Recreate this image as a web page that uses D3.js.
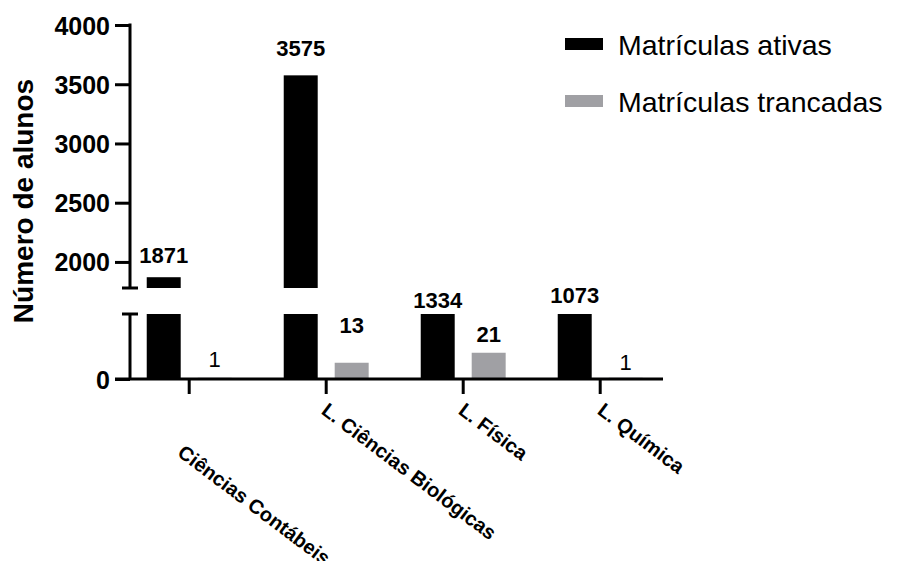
<!DOCTYPE html>
<html>
<head>
	<title>matriculas</title>
	<script src="https://cdn.jsdelivr.net/npm/d3@7"></script>
</head>
<style type="text/css">
	body { margin: 0; background-color: #fff; }
	text { font-family: Arial, "Liberation Sans", sans-serif; }
</style>
<body>
</body>
</html>
<script type="text/javascript">
	var width = 903;
	var height = 561;

	var categories = ["Ciências Contábeis", "L. Ciências Biológicas", "L. Física", "L. Química"];
	var series = ["Matrículas ativas", "Matrículas trancadas"];
	var ativas = [1871, 3575, 1334, 1073];
	var trancadas = [1, 13, 21, 1];
	var upperTicks = [2000, 2500, 3000, 3500, 4000];
	var lowerTicks = [0];

	// broken axis: lower piece 0-52, upper piece 1780-4000
	var lowDomain = [0, 52];
	var highDomain = [1780, 4000];

	var colors = d3.scaleOrdinal().domain(series).range(["#000000", "#a0a0a4"]);
	// label nudges (px above bar top), as placed in the original
	var labelGap = [[14, 19, 6, 11], [11, 30, 11, 8]];

	var svg = d3.select("body").append("svg").attr("width", width).attr("height", height);

	var yLow = d3.scaleLinear().domain(lowDomain).range([379, 314]);
	var yHigh = d3.scaleLinear().domain(highDomain).range([288, 25]);

	var x = d3.scaleBand().domain(categories).range([120.7, 668.7]).paddingInner(0.38).paddingOuter(0.19);
	var xSub = d3.scaleBand().domain(series).range([0, x.bandwidth()]).paddingInner(1 / 3);

	var rows = [];
	categories.forEach(function (c, i) {
		rows.push({cat: c, s: series[0], v: ativas[i], k: 0, i: i});
		rows.push({cat: c, s: series[1], v: trancadas[i], k: 1, i: i});
	});

	var bars = svg.append("g");
	// lower piece
	bars.selectAll("rect.low").data(rows).enter().append("rect")
		.attr("class", "low")
		.attr("x", function (d) { return x(d.cat) + xSub(d.s); })
		.attr("width", xSub.bandwidth())
		.attr("y", function (d) { return yLow(Math.min(d.v, lowDomain[1])); })
		.attr("height", function (d) { return yLow(0) - yLow(Math.min(d.v, lowDomain[1])); })
		.attr("fill", function (d) { return colors(d.s); });
	// upper piece
	bars.selectAll("rect.high").data(rows.filter(function (d) { return d.v > highDomain[0]; })).enter().append("rect")
		.attr("class", "high")
		.attr("x", function (d) { return x(d.cat) + xSub(d.s); })
		.attr("width", xSub.bandwidth())
		.attr("y", function (d) { return yHigh(d.v); })
		.attr("height", function (d) { return yHigh(highDomain[0]) - yHigh(d.v); })
		.attr("fill", function (d) { return colors(d.s); });

	// value labels
	svg.append("g").selectAll("text").data(rows).enter().append("text")
		.attr("x", function (d) { return x(d.cat) + xSub(d.s) + xSub.bandwidth() / 2; })
		.attr("y", function (d) {
			var top = d.v > highDomain[0] ? yHigh(d.v) : yLow(Math.min(d.v, lowDomain[1]));
			return top - labelGap[d.k][d.i];
		})
		.attr("text-anchor", "middle")
		.style("font-size", "22px")
		.style("font-weight", function (d) { return d.v > 1 ? "bold" : "normal"; })
		.text(function (d) { return d.v; });

	// y axes
	var axisHigh = svg.append("g").attr("transform", "translate(130,0)")
		.call(d3.axisLeft(yHigh).tickValues(upperTicks).tickSize(15).tickPadding(5).tickFormat(d3.format("d")));
	var axisLow = svg.append("g").attr("transform", "translate(130,0)")
		.call(d3.axisLeft(yLow).tickValues(lowerTicks).tickSize(15).tickPadding(5));
	[axisHigh, axisLow].forEach(function (a) {
		a.select(".domain").remove();
		a.selectAll("line").attr("stroke", "#000").attr("stroke-width", 3);
		a.selectAll("text").attr("fill", "#000").style("font-size", "25px").style("font-weight", "bold").attr("dy", "0.36em");
	});
	// axis spines with break caps
	var spine = svg.append("g").attr("stroke", "#000").attr("stroke-width", 3);
	spine.append("line").attr("x1", 130).attr("x2", 130).attr("y1", yHigh(highDomain[1]) - 1.5).attr("y2", yHigh(highDomain[0]));
	spine.append("line").attr("x1", 122).attr("x2", 138).attr("y1", yHigh(highDomain[0])).attr("y2", yHigh(highDomain[0]));
	spine.append("line").attr("x1", 130).attr("x2", 130).attr("y1", yLow(lowDomain[1])).attr("y2", yLow(0));
	spine.append("line").attr("x1", 122).attr("x2", 138).attr("y1", yLow(lowDomain[1])).attr("y2", yLow(lowDomain[1]));

	// x axis
	var axisX = svg.append("g").attr("transform", "translate(0," + yLow(0) + ")")
		.call(d3.axisBottom(x).tickSize(15).tickFormat(""));
	axisX.select(".domain").remove();
	axisX.selectAll("line").attr("stroke", "#000").attr("stroke-width", 3);
	spine.append("line").attr("x1", 115).attr("x2", 663).attr("y1", yLow(0)).attr("y2", yLow(0));

	// category labels, rotated
	var catDy = [42, 0, 0, 0];
	var catDx = [-13, -6, -6, -4];
	svg.append("g").selectAll("text").data(categories).enter().append("text")
		.attr("transform", function (d, i) {
			var tx = x(d) + x.bandwidth() / 2 + catDx[i];
			var ty = yLow(0) + 34 + catDy[i];
			return "translate(" + tx + "," + ty + ") rotate(37)";
		})
		.style("font-size", "20px")
		.style("font-weight", "bold")
		.text(function (d) { return d; });

	// y title
	svg.append("text")
		.attr("transform", "translate(33,201) rotate(-90)")
		.attr("text-anchor", "middle")
		.style("font-size", "28px")
		.style("font-weight", "bold")
		.text("Número de alunos");

	// legend
	var legend = svg.append("g").selectAll("g").data(series).enter().append("g")
		.attr("transform", function (d, i) { return "translate(565," + (38 + i * 57) + ")"; });
	legend.append("rect").attr("width", 38).attr("height", 12).attr("fill", function (d) { return colors(d); });
	legend.append("text").attr("x", 53).attr("y", 17).style("font-size", "28.5px").text(function (d) { return d; });
</script>
